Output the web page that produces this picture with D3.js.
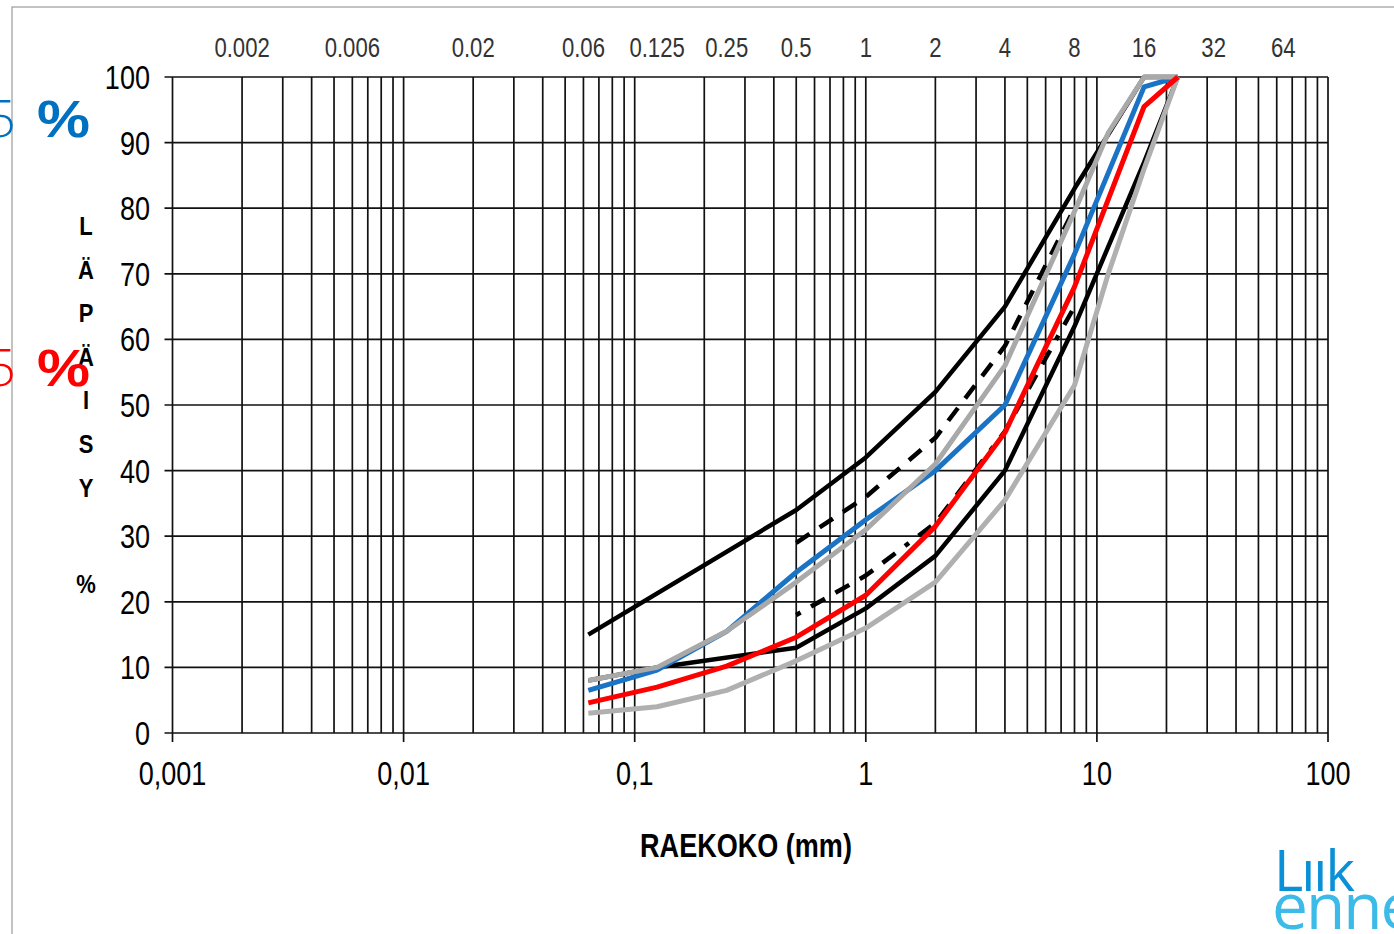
<!DOCTYPE html>
<html>
<head>
<meta charset="utf-8">
<script src="https://cdn.jsdelivr.net/npm/d3@7"></script>
<style>
  body { margin: 0; background: #fff; }
  svg { display: block; }
  .nar { font-family: "Liberation Sans", Arial, sans-serif; }
</style>
</head>
<body>
<svg id="chart" width="1394" height="934"></svg>
<script>
// seulakoot (mm)
const sizes = [0.063, 0.125, 0.25, 0.5, 1, 2, 4, 8, 11.2, 16, 22.4];
// läpäisy % per käyrä (null = ei pistettä)
const upperLimit  = [15, null, null, 34, 42, 52, 65, 83, null, 100, 100];
const lowerLimit  = [8, 10, null, 13, 19, 27, 40, 62, null, 87, 100];
const upperDashed = [null, null, null, 29, 36, 45, 59, 80, null, null, null];
const lowerDashed = [null, null, null, 18, 24, 32, 46, 65, null, null, null];
const greyUpper   = [8, 10, 15.5, 23, 31, 41, 56, 79.5, 91.5, 100, 100];
const greyLower   = [3, 4, 6.5, 11, 16, 23, 35.5, 53, 70, 86, 100];
const bluePass    = [6.5, 9.6, 15.5, 24.5, 32.5, 40, 50, 73, null, 98.5, 100];
const redPass     = [4.6, 7, 10.2, 14.6, 21, 31.5, 45.8, 68, null, 95.5, 100];

const topTicks  = [0.002, 0.006, 0.02, 0.06, 0.125, 0.25, 0.5, 1, 2, 4, 8, 16, 32, 64];
const decades   = [0.001, 0.01, 0.1, 1, 10, 100];
const decadeLbl = ["0,001", "0,01", "0,1", "1", "10", "100"];
const yTicks    = [0, 10, 20, 30, 40, 50, 60, 70, 80, 90, 100];
const yTitle    = ["L", "Ä", "P", "Ä", "I", "S", "Y"];

const svg = d3.select("#chart");
const x = d3.scaleLog().domain([0.001, 100]).range([172.5, 1328]);
const y = d3.scaleLinear().domain([0, 100]).range([733, 77]);
const SX = 0.82; // kapea fontti (Arial Narrow -tyyli)

// kehys
svg.append("rect")
    .attr("x", 12).attr("y", 7)
    .attr("width", 1500).attr("height", 1000)
    .attr("fill", "none")
    .attr("stroke", "#9a9a9a")
    .attr("stroke-width", 1.2);

// ruudukko
const grid = svg.append("g").attr("stroke", "#111").attr("stroke-width", 1.7);
grid.selectAll("line.v").data(x.ticks()).enter().append("line")
    .attr("class", "v")
    .attr("x1", d => x(d)).attr("x2", d => x(d))
    .attr("y1", y(100)).attr("y2", y(0));
grid.selectAll("line.h").data(yTicks).enter().append("line")
    .attr("class", "h")
    .attr("x1", x(0.001) - 8).attr("x2", x(100))
    .attr("y1", d => y(d)).attr("y2", d => y(d));
grid.selectAll("line.xt").data(decades).enter().append("line")
    .attr("class", "xt")
    .attr("x1", d => x(d)).attr("x2", d => x(d))
    .attr("y1", y(0)).attr("y2", y(0) + 9);

// akselien tekstit
svg.append("g").attr("class", "nar")
    .attr("font-size", 33).attr("text-anchor", "end")
    .selectAll("text").data(yTicks).enter().append("text")
    .attr("transform", d => `translate(150,${y(d) + 12}) scale(${SX},1)`)
    .text(d => d);

svg.append("g").attr("class", "nar")
    .attr("font-size", 33).attr("text-anchor", "middle")
    .selectAll("text").data(decades).enter().append("text")
    .attr("transform", d => `translate(${x(d)},785) scale(${SX},1)`)
    .text((d, i) => decadeLbl[i]);

svg.append("g").attr("class", "nar")
    .attr("font-size", 27).attr("text-anchor", "middle").attr("fill", "#333")
    .selectAll("text").data(topTicks).enter().append("text")
    .attr("transform", d => `translate(${x(d)},57) scale(${SX},1)`)
    .text(d => String(d));

svg.append("text").attr("class", "nar")
    .attr("transform", `translate(746,857) scale(${SX},1)`)
    .attr("text-anchor", "middle")
    .attr("font-size", 33).attr("font-weight", "bold")
    .text("RAEKOKO (mm)");

const yt = svg.append("g").attr("class", "nar")
    .attr("font-size", 25).attr("font-weight", "bold").attr("text-anchor", "middle");
yt.selectAll("text").data(yTitle).enter().append("text")
    .attr("transform", (d, i) => `translate(86,${235 + i * 43.6}) scale(0.88,1)`)
    .text(d => d);
yt.append("text").attr("transform", "translate(86,593) scale(0.88,1)").text("%");

// käyrät
const line = d3.line().x(d => x(d[0])).y(d => y(d[1]));
const pts = vals => sizes.map((s, i) => [s, vals[i]]).filter(d => d[1] != null);

const curves = [
    { v: upperLimit,  c: "#000",    w: 4.5 },
    { v: lowerLimit,  c: "#000",    w: 4.5 },
    { v: upperDashed, c: "#000",    w: 4.5, dash: "16,12" },
    { v: lowerDashed, c: "#000",    w: 4.5, dash: "5,12,16,12,16,12,16,12,16,12" },
    { v: bluePass,    c: "#1a73c4", w: 5 },
    { v: greyUpper,   c: "#a9a9a9", w: 5 },
    { v: greyLower,   c: "#b0b0b0", w: 5 },
    { v: redPass,     c: "#ff0000", w: 5 }
];
svg.append("g").selectAll("path").data(curves).enter().append("path")
    .attr("d", d => line(pts(d.v)))
    .attr("fill", "none")
    .attr("stroke", d => d.c)
    .attr("stroke-width", d => d.w)
    .attr("stroke-linejoin", "round")
    .attr("stroke-dasharray", d => d.dash || null);

// päälle tulevat merkinnät
const notes = [{ yy: 137, c: "#0070c0" }, { yy: 386, c: "#ff0000" }];
notes.forEach(n => {
    svg.append("text")
        .attr("x", 16).attr("y", n.yy)
        .attr("text-anchor", "end")
        .attr("font-family", "'Open Sans', sans-serif")
        .attr("font-size", 52).attr("font-weight", 300)
        .attr("fill", n.c)
        .text("5");
    svg.append("text")
        .attr("x", 37).attr("y", n.yy)
        .attr("font-family", "'Liberation Sans', Arial, sans-serif")
        .attr("font-size", 52).attr("font-weight", "bold")
        .attr("fill", n.c)
        .attr("textLength", 53).attr("lengthAdjust", "spacingAndGlyphs")
        .text("%");
});

// logo
svg.append("text")
    .attr("x", 1274).attr("y", 891)
    .attr("font-family", "'Open Sans', sans-serif")
    .attr("font-size", 56).attr("font-weight", 500)
    .attr("fill", "#0a90d6").attr("letter-spacing", -2)
    .text("Lıık");
svg.append("text")
    .attr("x", 1272).attr("y", 929)
    .attr("font-family", "'Open Sans', sans-serif")
    .attr("font-size", 64).attr("font-weight", 500)
    .attr("fill", "#3cbbe9").attr("letter-spacing", -2)
    .text("enne");
</script>
</body>
</html>
